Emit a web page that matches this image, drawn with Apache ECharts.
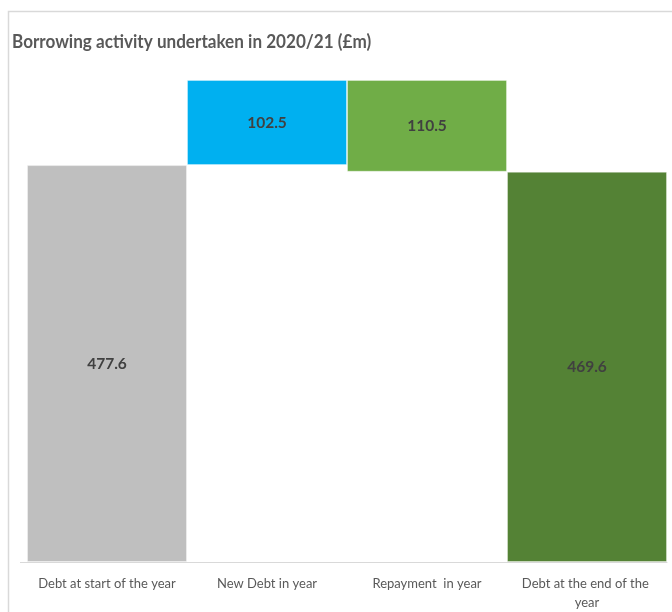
<!DOCTYPE html>
<html><head><meta charset="utf-8">
<script src="https://cdn.jsdelivr.net/npm/echarts@6/dist/echarts.min.js"></script>
<style>html,body{margin:0;padding:0;background:#fff}#c{width:672px;height:612px}</style>
</head><body><div id="c"></div>
<script>
const categories = ['Debt at start of the year', 'New Debt in year', 'Repayment  in year', 'Debt at the end of the year'];
const values = [477.6, 102.5, 110.5, 469.6];
const colors = ['#bfbfbf', '#00b0f0', '#70ad47', '#548235'];
const titleText = 'Borrowing activity undertaken in 2020/21 (£m)';

// waterfall bases derived from values
const bases = [0, values[0], values[0] + values[1] - values[2], 0];

const chart = echarts.init(document.getElementById('c'));
const FONT = 'Lato';
chart.setOption({
  animation: false,
  backgroundColor: '#fff',
  graphic: [
    { type: 'rect', shape: { x: 8.5, y: 11.5, width: 700, height: 700 }, style: { fill: 'none', stroke: '#d9d9d9', lineWidth: 1.5 }, silent: true, z: -1 },
    { type: 'line', shape: { x1: 20, y1: 562.5, x2: 27, y2: 562.5 }, style: { stroke: '#d9d9d9', lineWidth: 1 } },
    { type: 'text', x: 12, y: 42, scaleX: 0.9, style: { text: titleText, fontFamily: FONT, fontSize: 19, fontWeight: 'bold', fill: '#595959', verticalAlign: 'middle', align: 'left' } }
  ],
  grid: { left: 27, right: 5, top: 63.4, bottom: 50, containLabel: false },
  xAxis: {
    type: 'category', data: categories,
    axisTick: { show: false },
    axisLine: { lineStyle: { color: '#d9d9d9' } },
    axisLabel: { interval: 0, width: 150, overflow: 'break', color: '#595959', fontFamily: FONT, fontSize: 13, margin: 12, lineHeight: 19 }
  },
  yAxis: { type: 'value', min: 0, max: 600, show: false, splitLine: { show: false } },
  series: [
    { type: 'bar', stack: 'w', data: bases, itemStyle: { color: 'transparent' }, barCategoryGap: '0%', silent: true },
    {
      type: 'bar', stack: 'w', barCategoryGap: '0%',
      data: values.map((v, i) => ({ value: v, itemStyle: { color: colors[i] } })),
      itemStyle: { borderColor: 'rgba(255,255,255,0.35)', borderWidth: 1 },
      label: { show: true, position: 'inside', color: '#404040', fontFamily: FONT, fontSize: 15.5, fontWeight: 'bold', formatter: p => p.value.toFixed(1) }
    }
  ]
});
</script></body></html>
